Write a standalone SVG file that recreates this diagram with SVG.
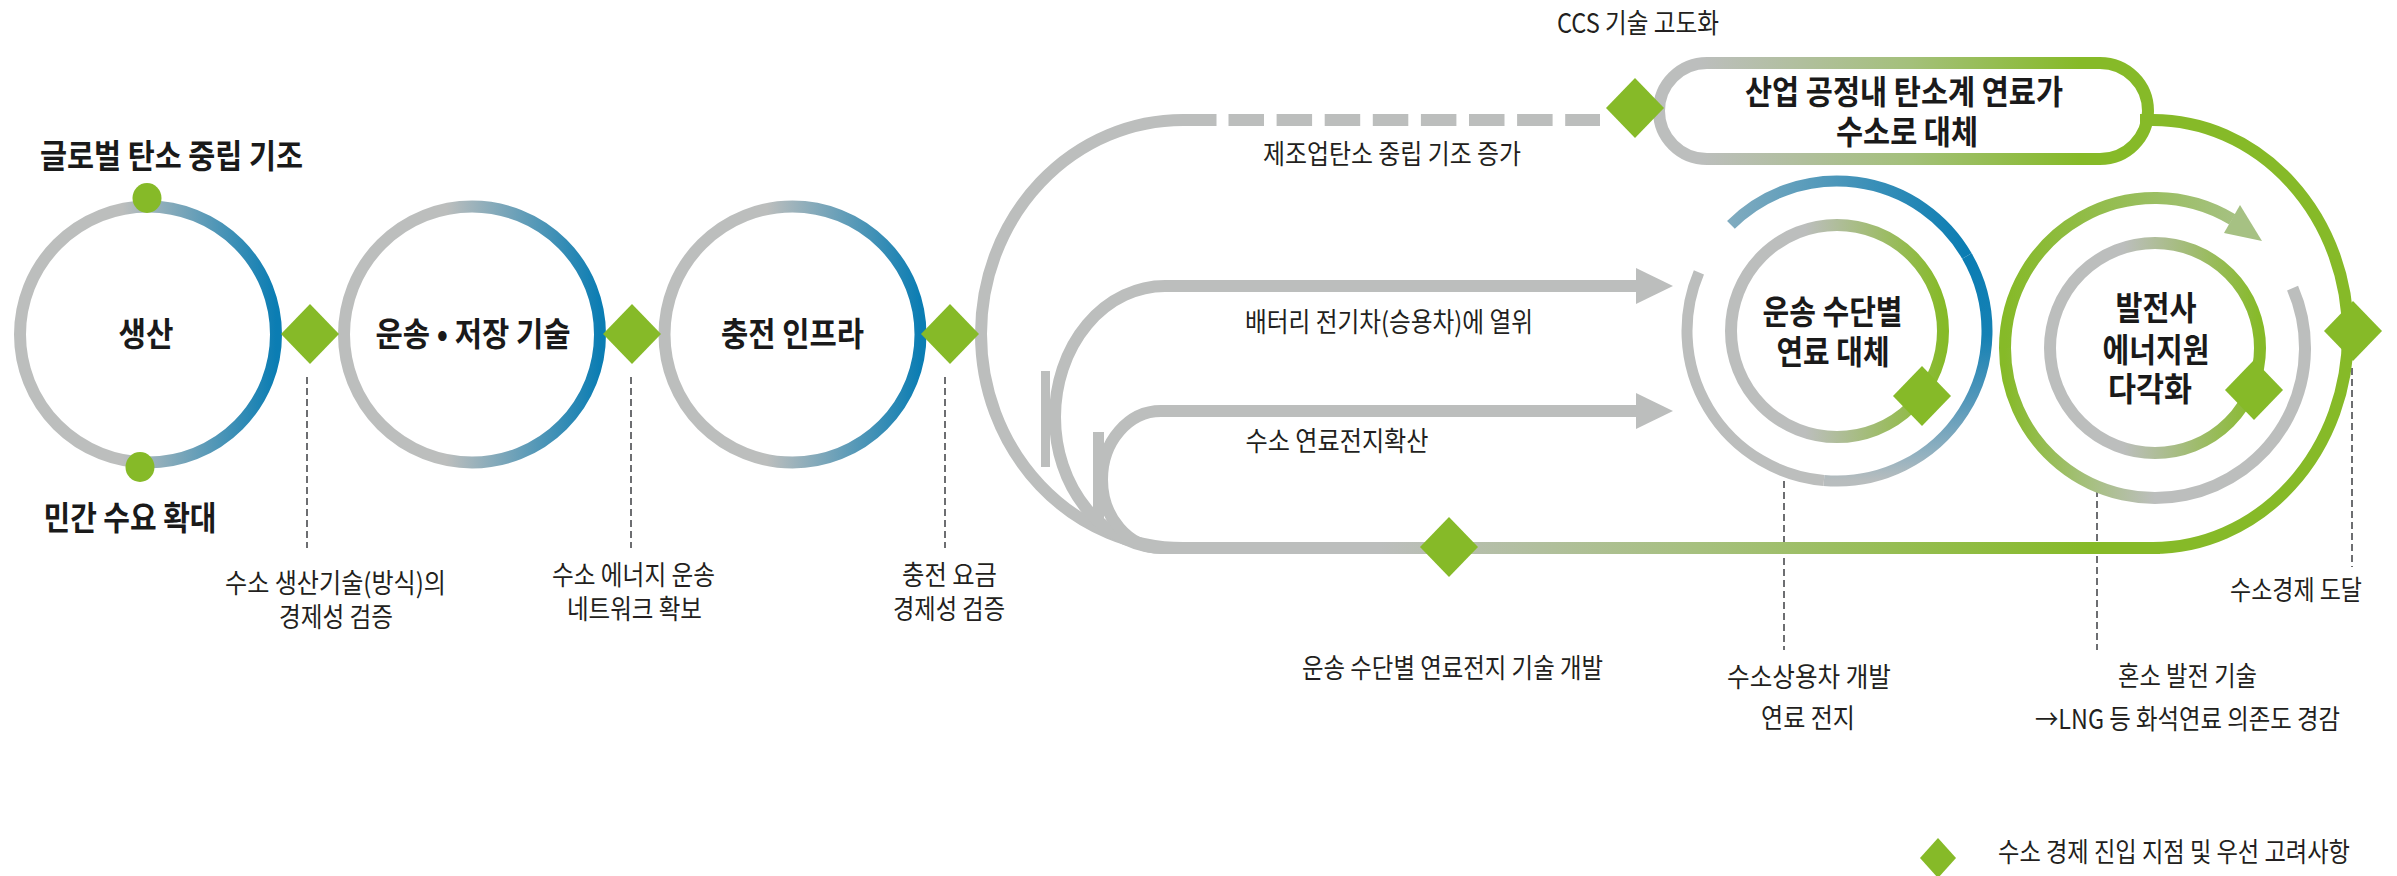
<svg xmlns="http://www.w3.org/2000/svg" xmlns:xlink="http://www.w3.org/1999/xlink" width="2397" height="876" viewBox="0 0 2397 876">
<style>
.b{font-family:"Noto Sans CJK KR","Noto Sans CJK SC",sans-serif;font-weight:700;font-size:33px;fill:#1a1a1a;text-anchor:middle}
.r{font-family:"Noto Sans CJK KR","Noto Sans CJK SC",sans-serif;font-weight:400;font-size:27px;fill:#231f20;text-anchor:middle}
.gs{fill:none;stroke:#bcbebd;stroke-width:12}
.dash{fill:none;stroke:#6d6e71;stroke-width:2;stroke-dasharray:7 4}
.dia{fill:#86ba28}
.gf{fill:#bcbebd}
</style>
<defs>
<path id="dia" d="M0,-30 L29,0 L0,30 L-29,0Z"/>
<linearGradient id="gBlue" x1="0" y1="0" x2="1" y2="0">
<stop offset="0" stop-color="#bcbebd"/><stop offset="0.4" stop-color="#bcbebd"/><stop offset="1" stop-color="#0b7db3"/>
</linearGradient>
<linearGradient id="gInner" x1="0" y1="0" x2="1" y2="0">
<stop offset="0" stop-color="#bcbebd"/><stop offset="0.35" stop-color="#bcbebd"/><stop offset="1" stop-color="#86ba28"/>
</linearGradient>
<linearGradient id="gA" gradientUnits="userSpaceOnUse" x1="1730" y1="0" x2="1967" y2="0">
<stop offset="0" stop-color="#80abbf"/><stop offset="1" stop-color="#0b7db3"/>
</linearGradient>
<linearGradient id="gB" gradientUnits="userSpaceOnUse" x1="0" y1="256" x2="0" y2="481">
<stop offset="0" stop-color="#0b7db3"/><stop offset="0.35" stop-color="#1581b4"/><stop offset="0.65" stop-color="#5598ba"/><stop offset="0.88" stop-color="#92b1c0"/><stop offset="1" stop-color="#b8bdbe"/>
</linearGradient>
<linearGradient id="gR" gradientUnits="userSpaceOnUse" x1="2005" y1="0" x2="2305" y2="0">
<stop offset="0" stop-color="#86ba28"/><stop offset="0.28" stop-color="#a6c07f"/><stop offset="0.5" stop-color="#bcbebd"/><stop offset="1" stop-color="#bcbebd"/>
</linearGradient>
<linearGradient id="gT" gradientUnits="userSpaceOnUse" x1="2005" y1="0" x2="2240" y2="0">
<stop offset="0" stop-color="#86ba28"/><stop offset="1" stop-color="#a6c183"/>
</linearGradient>
<linearGradient id="gBottom" gradientUnits="userSpaceOnUse" x1="1380" y1="0" x2="2090" y2="0">
<stop offset="0" stop-color="#bcbebd"/><stop offset="0.45" stop-color="#a6c07e"/><stop offset="1" stop-color="#86ba28"/>
</linearGradient>
<linearGradient id="gRect" gradientUnits="userSpaceOnUse" x1="1700" y1="0" x2="2080" y2="0">
<stop offset="0" stop-color="#bcbebd"/><stop offset="0.55" stop-color="#a4c07b"/><stop offset="1" stop-color="#86ba28"/>
</linearGradient>
</defs>
<rect width="2397" height="876" fill="#ffffff"/>

<g id="connectors">
<line class="dash" x1="307" y1="377" x2="307" y2="548"/>
<line class="dash" x1="631" y1="377" x2="631" y2="548"/>
<line class="dash" x1="945" y1="377" x2="945" y2="548"/>
<line class="dash" x1="1784" y1="481" x2="1784" y2="650"/>
<line class="dash" x1="2097" y1="490" x2="2097" y2="650"/>
<line class="dash" x1="2352" y1="368" x2="2352" y2="567"/>
<path class="gs" d="M1216.5 120 H1183 A202 214 0 0 0 1183 548"/>
<line class="gs" x1="1228.5" y1="120" x2="1600" y2="120" style="stroke-dasharray:35.5 12.6"/>
<path class="gs" d="M1640 286 H1165 A110 131 0 0 0 1165 548"/>
<path class="gs" d="M1640 411 H1161 A59 68.5 0 0 0 1161 548"/>
<rect class="gf" x="1041" y="371" width="9" height="96"/>
<rect class="gf" x="1093" y="432" width="11" height="90"/>
<polygon class="gf" points="1636,268 1673,286 1636,304"/>
<polygon class="gf" points="1636,393 1673,411 1636,429"/>
<path d="M2140 120 H2153 A195 214 0 0 1 2153 548" fill="none" stroke="#86ba28" stroke-width="12"/>
<line x1="1160" y1="548" x2="2160" y2="548" stroke="url(#gBottom)" stroke-width="12"/>
</g>

<g id="node-production">
<circle cx="148" cy="334.5" r="128" fill="none" stroke="url(#gBlue)" stroke-width="12"/>
<ellipse cx="147" cy="198" rx="14.5" ry="15" fill="#86ba28"/>
<ellipse cx="140" cy="467" rx="14.5" ry="15" fill="#86ba28"/>
<text class="b" x="146" y="346" textLength="55" lengthAdjust="spacingAndGlyphs">생산</text>
</g>
<g id="node-transport">
<circle cx="472" cy="334.5" r="128" fill="none" stroke="url(#gBlue)" stroke-width="12"/>
<text class="b" x="473" y="346" textLength="195" lengthAdjust="spacingAndGlyphs">운송 • 저장 기술</text>
</g>
<g id="node-charging">
<circle cx="792.5" cy="334.5" r="128" fill="none" stroke="url(#gBlue)" stroke-width="12"/>
<text class="b" x="792.5" y="346" textLength="143" lengthAdjust="spacingAndGlyphs">충전 인프라</text>
</g>

<g id="node-industry">
<rect x="1659" y="63" width="489" height="96" rx="48" ry="48" fill="none" stroke="url(#gRect)" stroke-width="12"/>
<text class="b" x="1904" y="104" textLength="318" lengthAdjust="spacingAndGlyphs">산업 공정내 탄소계 연료가</text>
<text class="b" x="1907" y="144" textLength="142" lengthAdjust="spacingAndGlyphs">수소로 대체</text>
</g>

<g id="node-vehicle">
<path d="M1730.93 224.93 A150 150 0 0 1 1966.9 256" fill="none" stroke="url(#gA)" stroke-width="11"/>
<path d="M1966.9 256 A150 150 0 0 1 1823.93 480.43" fill="none" stroke="url(#gB)" stroke-width="11"/>
<path d="M1823.93 480.43 A150 150 0 0 1 1698.92 272.39" fill="none" stroke="#bcbebd" stroke-width="11"/>
<circle cx="1837" cy="331" r="106" fill="none" stroke="url(#gInner)" stroke-width="12"/>
<text class="b" x="1832.5" y="324" textLength="140" lengthAdjust="spacingAndGlyphs">운송 수단별</text>
<text class="b" x="1833" y="364" textLength="113" lengthAdjust="spacingAndGlyphs">연료 대체</text>
</g>

<g id="node-power">
<path d="M2292.57 288.2 A150 150 0 1 1 2005 348" fill="none" stroke="url(#gR)" stroke-width="12"/>
<path d="M2005 348 A150 150 0 0 1 2232.25 219.42" fill="none" stroke="url(#gT)" stroke-width="12"/>
<polygon points="2224,233 2240,205 2262,241" fill="#a6c183"/>
<circle cx="2155" cy="348" r="105" fill="none" stroke="url(#gInner)" stroke-width="12"/>
<text class="b" x="2156" y="320" textLength="81" lengthAdjust="spacingAndGlyphs">발전사</text>
<text class="b" x="2156" y="362" textLength="107" lengthAdjust="spacingAndGlyphs">에너지원</text>
<text class="b" x="2150" y="401" textLength="84" lengthAdjust="spacingAndGlyphs">다각화</text>
</g>

<g id="markers">
<use href="#dia" class="dia" x="310" y="334"/>
<use href="#dia" class="dia" x="632" y="334"/>
<use href="#dia" class="dia" x="950" y="334"/>
<use href="#dia" class="dia" x="1635" y="108"/>
<use href="#dia" class="dia" x="1449" y="547"/>
<use href="#dia" class="dia" x="1922" y="396"/>
<use href="#dia" class="dia" x="2254" y="390"/>
<use href="#dia" class="dia" x="2353" y="331"/>
</g>

<g id="labels">
<text class="b" x="171.5" y="168" textLength="263" lengthAdjust="spacingAndGlyphs">글로벌 탄소 중립 기조</text>
<text class="b" x="130" y="530" textLength="173" lengthAdjust="spacingAndGlyphs">민간 수요 확대</text>
<text class="r" x="335.5" y="593" textLength="221" lengthAdjust="spacingAndGlyphs">수소 생산기술(방식)의</text>
<text class="r" x="336" y="627" textLength="114" lengthAdjust="spacingAndGlyphs">경제성 검증</text>
<text class="r" x="633.5" y="585" textLength="163" lengthAdjust="spacingAndGlyphs">수소 에너지 운송</text>
<text class="r" x="634.5" y="619" textLength="135" lengthAdjust="spacingAndGlyphs">네트워크 확보</text>
<text class="r" x="949.5" y="585" textLength="95" lengthAdjust="spacingAndGlyphs">충전 요금</text>
<text class="r" x="949" y="619" textLength="112" lengthAdjust="spacingAndGlyphs">경제성 검증</text>
<text class="r" x="1638" y="33" textLength="162" lengthAdjust="spacingAndGlyphs">CCS 기술 고도화</text>
<text class="r" x="1392" y="164" textLength="258" lengthAdjust="spacingAndGlyphs">제조업탄소 중립 기조 증가</text>
<text class="r" x="1389" y="332" textLength="288" lengthAdjust="spacingAndGlyphs">배터리 전기차(승용차)에 열위</text>
<text class="r" x="1337" y="451" textLength="183" lengthAdjust="spacingAndGlyphs">수소 연료전지확산</text>
<text class="r" x="2296" y="600" textLength="132" lengthAdjust="spacingAndGlyphs">수소경제 도달</text>
<text class="r" x="1452.5" y="678" textLength="301" lengthAdjust="spacingAndGlyphs">운송 수단별 연료전지 기술 개발</text>
<text class="r" x="1809" y="687" textLength="164" lengthAdjust="spacingAndGlyphs">수소상용차 개발</text>
<text class="r" x="1808" y="728" textLength="94" lengthAdjust="spacingAndGlyphs">연료 전지</text>
<text class="r" x="2187.5" y="686" textLength="139" lengthAdjust="spacingAndGlyphs">혼소 발전 기술</text>
<text class="r" x="2187.5" y="729" textLength="305" lengthAdjust="spacingAndGlyphs">→LNG 등 화석연료 의존도 경감</text>
</g>

<g id="legend">
<polygon class="dia" points="1938,838 1956,858 1938,878 1920,858"/>
<text class="r" x="2174" y="862" textLength="352" lengthAdjust="spacingAndGlyphs">수소 경제 진입 지점 및 우선 고려사항</text>
</g>
</svg>
